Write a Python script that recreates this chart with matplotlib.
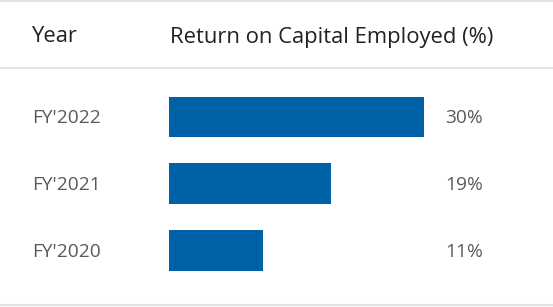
import matplotlib.pyplot as plt
from matplotlib.lines import Line2D
from matplotlib.transforms import blended_transform_factory

years = ["FY'2022", "FY'2021", "FY'2020"]
roce = [30, 19, 11]

W, H = 553, 307
plt.rcParams['font.family'] = ['Open Sans', 'DejaVu Sans']

fig = plt.figure(figsize=(W / 100, H / 100), dpi=100)
fig.patch.set_facecolor("white")

# bar area: starts at x=169px, 30% reaches x=424px, rows centred at 117/184/250px
left, right = 169 / W, 424 / W
top, bottom = 83.6 / H, 283.9 / H
ax = fig.add_axes([left, 1 - bottom, right - left, bottom - top])
ax.barh(range(len(years)), roce, height=0.61, color="#0062a6")
ax.set_xlim(0, 30)
ax.set_ylim(2.5, -0.5)
ax.axis("off")

tr = blended_transform_factory(fig.transFigure, ax.transData)
for i, (yr, v) in enumerate(zip(years, roce)):
    ax.text(32 / W, i + 0.02, yr, transform=tr, ha="left", va="center",
            fontsize=13.8, color="#5a5a5a")
    ax.text(445 / W, i + 0.02, f"{v}%", transform=tr, ha="left", va="center",
            fontsize=13.8, color="#5a5a5a")

# header row
fig.text(32 / W, 1 - 37 / H, "Year", ha="left", va="center",
         fontsize=15.8, color="#222222")
fig.text(170 / W, 1 - 37 / H, "Return on Capital Employed (%)", ha="left",
         va="center", fontsize=15.8, color="#222222")

# table rules
for yp in (1, 68, 305):
    fig.add_artist(Line2D([0, 1], [1 - yp / H] * 2, transform=fig.transFigure,
                          color="#e3e3e3", lw=1.5))

fig.savefig("out.png", dpi=100, facecolor="white")
